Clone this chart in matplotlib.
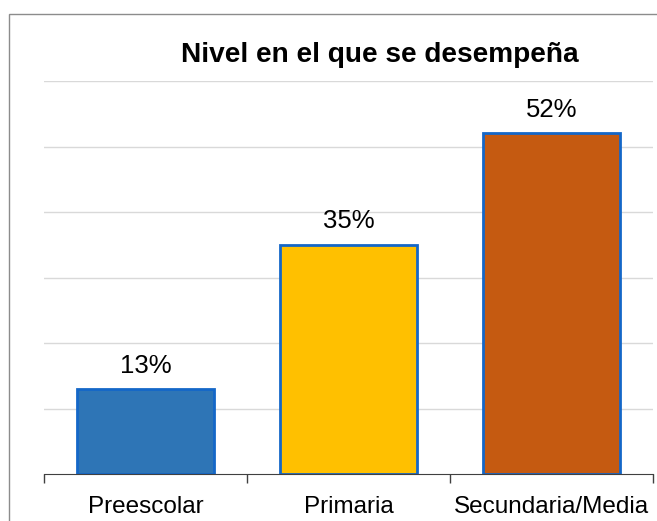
import matplotlib
matplotlib.use("Agg")
import matplotlib.pyplot as plt
from matplotlib.patches import Rectangle

plt.rcParams['font.family'] = ['Liberation Sans', 'DejaVu Sans']

# data
categorias = ["Preescolar", "Primaria", "Secundaria/Media"]
porcentajes = [13, 35, 52]
colores = ["#2E75B6", "#FFC000", "#C55A11"]
titulo = "Nivel en el que se desempeña"

W, H = 657, 521
fig = plt.figure(figsize=(W / 100, H / 100), dpi=100)

# axes placed in pixel terms
left, right, bottom, top = 44, 653, 474, 81
ax = fig.add_axes([left / W, (H - bottom) / H, (right - left) / W, (bottom - top) / H])

x = range(len(categorias))
ax.bar(x, porcentajes, width=0.67, color=colores, edgecolor="#1467C8", linewidth=2, zorder=3)

ax.set_xlim(-0.5, len(categorias) - 0.5)
ax.set_ylim(0, 60)
ax.set_yticks(range(10, 61, 10))
ax.yaxis.grid(True, color="#D9D9D9", linewidth=1)
ax.tick_params(axis="y", left=False, labelleft=False)

for s in ["top", "right", "left"]:
    ax.spines[s].set_visible(False)
ax.spines["bottom"].set_color("#404040")
ax.spines["bottom"].set_zorder(4)

ax.set_xticks(list(x))
ax.set_xticklabels(categorias, fontsize=17.5)
ax.tick_params(axis="x", length=0, pad=16)
ax.set_xticks([i - 0.5 for i in range(len(categorias) + 1)], minor=True)
ax.tick_params(axis="x", which="minor", length=6.5, color="#404040", width=1)

for i, v in enumerate(porcentajes):
    ax.annotate(f"{v}%", (i, v), xytext=(0, 11.7), textcoords="offset points",
                ha="center", va="baseline", fontsize=18.5)

fig.text(380 / W, (H - 61.7) / H, titulo, ha="center", va="baseline",
         fontsize=20.2, fontweight="bold")

# frame around chart area
fig.patches.append(Rectangle((8.5 / W, -0.1), 1.2, (H - 13.5) / H + 0.1,
                             transform=fig.transFigure, fill=False,
                             edgecolor="#8C8C8C", linewidth=1))

fig.savefig("out.png", dpi=100)
